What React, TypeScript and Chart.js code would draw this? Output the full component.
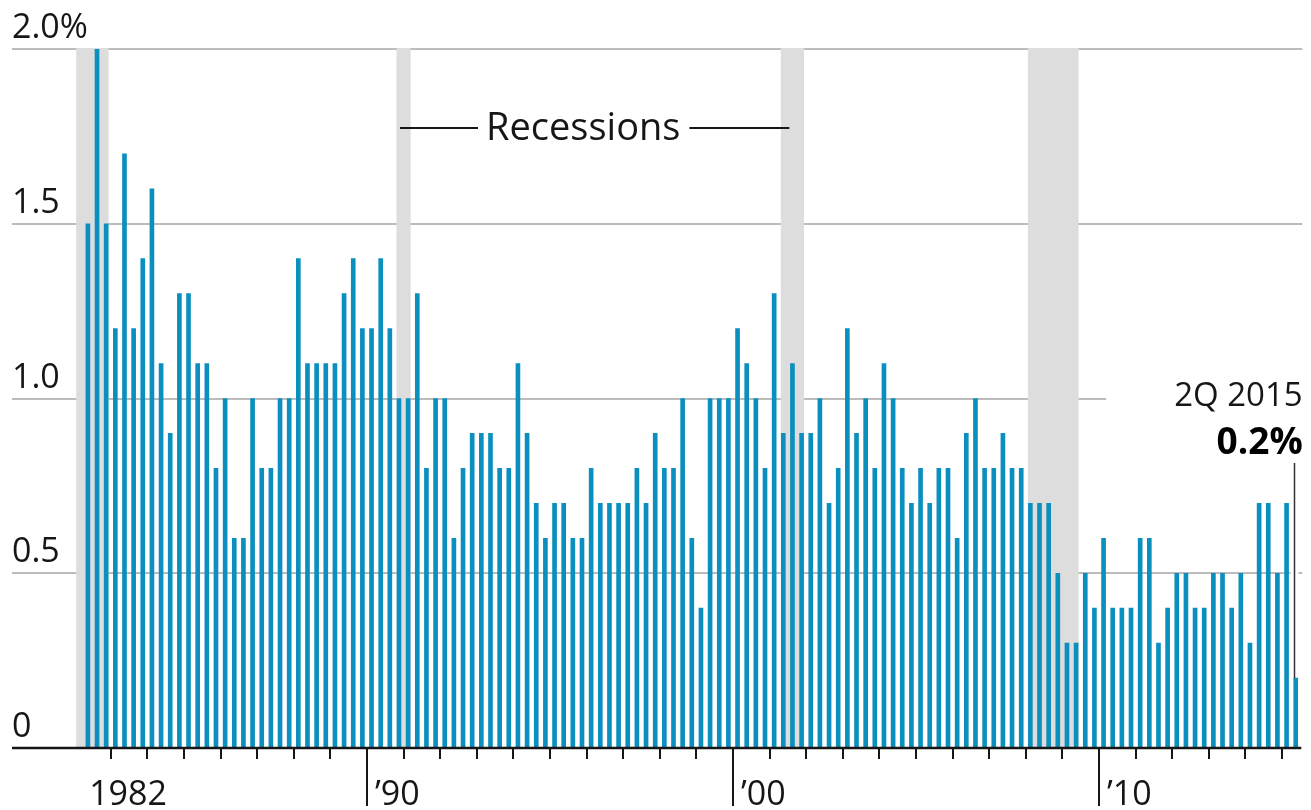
import React, { useEffect, useRef } from "react";
import { Chart, registerables } from "chart.js";

Chart.register(...registerables);

// Quarterly growth, from 2Q 1982 to 2Q 2015 (percent)
const startYear = 1982;
const startQuarter = 2;
const growth: number[] = [
  1.5, 2.0, 1.5, // 1982 Q2-Q4
  1.2, 1.7, 1.2, 1.4, // 1983
  1.6, 1.1, 0.9, 1.3, // 1984
  1.3, 1.1, 1.1, 0.8, // 1985
  1.0, 0.6, 0.6, 1.0, // 1986
  0.8, 0.8, 1.0, 1.0, // 1987
  1.4, 1.1, 1.1, 1.1, // 1988
  1.1, 1.3, 1.4, 1.2, // 1989
  1.2, 1.4, 1.2, 1.0, // 1990
  1.0, 1.3, 0.8, 1.0, // 1991
  1.0, 0.6, 0.8, 0.9, // 1992
  0.9, 0.9, 0.8, 0.8, // 1993
  1.1, 0.9, 0.7, 0.6, // 1994
  0.7, 0.7, 0.6, 0.6, // 1995
  0.8, 0.7, 0.7, 0.7, // 1996
  0.7, 0.8, 0.7, 0.9, // 1997
  0.8, 0.8, 1.0, 0.6, // 1998
  0.4, 1.0, 1.0, 1.0, // 1999
  1.2, 1.1, 1.0, 0.8, // 2000
  1.3, 0.9, 1.1, 0.9, // 2001
  0.9, 1.0, 0.7, 0.8, // 2002
  1.2, 0.9, 1.0, 0.8, // 2003
  1.1, 1.0, 0.8, 0.7, // 2004
  0.8, 0.7, 0.8, 0.8, // 2005
  0.6, 0.9, 1.0, 0.8, // 2006
  0.8, 0.9, 0.8, 0.8, // 2007
  0.7, 0.7, 0.7, 0.5, // 2008
  0.3, 0.3, 0.5, 0.4, // 2009
  0.6, 0.4, 0.4, 0.4, // 2010
  0.6, 0.6, 0.3, 0.4, // 2011
  0.5, 0.5, 0.4, 0.4, // 2012
  0.5, 0.5, 0.4, 0.5, // 2013
  0.3, 0.7, 0.7, 0.5, // 2014
  0.7, 0.2, // 2015 Q1-Q2
];

// Recessions: first and last quarter shaded [year, quarter]
const recessionStart: [number, number][] = [[1982, 1], [1990, 4], [2001, 2], [2008, 1]];
const recessionEnd: [number, number][] = [[1982, 4], [1991, 1], [2001, 4], [2009, 2]];

// Axis ticks and labels
const yTickValues = [0, 0.5, 1.0, 1.5, 2.0];
const yTickLabels = ["0", "0.5", "1.0", "1.5", "2.0%"];
const yearTickFirst = 1983;
const yearTickLast = 2015;
const decadeYears = [1990, 2000, 2010];
const decadeLabels = ["\u201990", "\u201900", "\u201910"];
const firstYearLabel = "1982";

const annotationTitle = "2Q 2015";
const annotationValue = "0.2%";
const recessionLabel = "Recessions";

const labels: string[] = growth.map((_, i) => {
  const q = startQuarter - 1 + i;
  return `${startYear + Math.floor(q / 4)}Q${(q % 4) + 1}`;
});

const BLUE = "#0b8fbe";
const SHADE = "#dddddd";
const GRID = "#bcbcbc";
const INK = "#161616";
const FONT = "'Open Sans', 'Noto Sans', sans-serif";
const BAR_W = 4;

function qIndex(year: number, quarter: number) {
  return (year - startYear) * 4 + (quarter - startQuarter);
}

const overlay = {
  id: "wsjOverlay",
  beforeDatasetsDraw(chart: any) {
    const { ctx, chartArea, scales } = chart;
    const x = scales.x;
    const y = scales.y;
    ctx.save();
    // gridlines
    ctx.strokeStyle = GRID;
    ctx.lineWidth = 2;
    yTickValues.forEach((v) => {
      if (v === 0) return;
      const py = Math.round(y.getPixelForValue(v));
      ctx.beginPath();
      ctx.moveTo(12, py);
      ctx.lineTo(chartArea.right + 2, py);
      ctx.stroke();
    });
    // recession shading
    ctx.fillStyle = SHADE;
    const top = y.getPixelForValue(yTickValues[yTickValues.length - 1]);
    const bottom = y.getPixelForValue(0);
    recessionStart.forEach((s, i) => {
      const e = recessionEnd[i];
      const x0 = x.getPixelForValue(qIndex(s[0], s[1])) - BAR_W / 2 - 0.5;
      const x1 = x.getPixelForValue(qIndex(e[0], e[1])) + BAR_W / 2 + 0.5;
      ctx.fillRect(x0, top - 1, x1 - x0, bottom - top + 1);
    });
    ctx.restore();
  },
  afterDatasetsDraw(chart: any) {
    const { ctx, chartArea, scales } = chart;
    const x = scales.x;
    const y = scales.y;
    const y0 = y.getPixelForValue(0);
    ctx.save();

    // axis line
    ctx.strokeStyle = INK;
    ctx.lineWidth = 2.5;
    ctx.beginPath();
    ctx.moveTo(12, y0);
    ctx.lineTo(chartArea.right + 1, y0);
    ctx.stroke();

    // year ticks
    ctx.lineWidth = 2;
    for (let yr = yearTickFirst; yr <= yearTickLast; yr++) {
      const i = qIndex(yr, 1);
      const px = Math.round((x.getPixelForValue(i) + x.getPixelForValue(i - 1)) / 2);
      const isDecade = decadeYears.includes(yr);
      ctx.beginPath();
      ctx.moveTo(px, y0);
      ctx.lineTo(px, y0 + (isDecade ? 58 : 11));
      ctx.stroke();
    }

    // x labels
    ctx.fillStyle = INK;
    ctx.font = `normal 34px ${FONT}`;
    ctx.textBaseline = "alphabetic";
    ctx.textAlign = "center";
    {
      const px = (x.getPixelForValue(4) + x.getPixelForValue(5)) / 2;
      ctx.fillText(firstYearLabel, px - 1, y0 + 57);
    }
    ctx.textAlign = "left";
    decadeYears.forEach((yr, k) => {
      const i = qIndex(yr, 1);
      const px = (x.getPixelForValue(i) + x.getPixelForValue(i - 1)) / 2;
      ctx.fillText(decadeLabels[k], px + 8, y0 + 57);
    });

    // y labels
    ctx.font = `normal 34px ${FONT}`;
    ctx.textAlign = "left";
    yTickValues.forEach((v, k) => {
      const py = y.getPixelForValue(v);
      ctx.fillText(yTickLabels[k], 12, py - 11);
    });

    // Recessions label
    const s2 = recessionStart[1];
    const s3 = recessionStart[2];
    const shade2Left = x.getPixelForValue(qIndex(s2[0], s2[1])) - BAR_W / 2;
    const shade3Left = x.getPixelForValue(qIndex(s3[0], s3[1])) - BAR_W / 2;
    const ly = Math.round(y.getPixelForValue(1.775));
    ctx.font = `normal 38px ${FONT}`;
    const lineStart = shade2Left + 3;
    const leftEnd = lineStart + 78;
    const textX = leftEnd + 8;
    const tw = ctx.measureText(recessionLabel).width;
    ctx.textBaseline = "middle";
    ctx.fillText(recessionLabel, textX, ly + 1);
    ctx.lineWidth = 2;
    ctx.strokeStyle = INK;
    ctx.beginPath();
    ctx.moveTo(lineStart, ly);
    ctx.lineTo(leftEnd, ly);
    ctx.moveTo(textX + tw + 9, ly);
    ctx.lineTo(shade3Left + 8, ly);
    ctx.stroke();

    // 2Q 2015 annotation
    const lastI = growth.length - 1;
    const bx = x.getPixelForValue(lastI);
    const by = y.getPixelForValue(growth[lastI]);
    const textRight = bx + 7;
    ctx.textBaseline = "alphabetic";
    ctx.textAlign = "right";
    ctx.font = `normal 33px ${FONT}`;
    const w1 = ctx.measureText(annotationTitle).width;
    ctx.fillStyle = "#ffffff";
    ctx.fillRect(textRight - w1 - 68, 365, w1 + 80, 98);
    // leader line with halo
    const lx = Math.round(bx - 1.5) + 0.5;
    ctx.strokeStyle = "#ffffff";
    ctx.lineWidth = 8;
    ctx.beginPath();
    ctx.moveTo(lx, 463);
    ctx.lineTo(lx, by - 4);
    ctx.stroke();
    ctx.strokeStyle = "#333333";
    ctx.lineWidth = 1.5;
    ctx.beginPath();
    ctx.moveTo(lx, 463);
    ctx.lineTo(lx, by);
    ctx.stroke();

    ctx.fillStyle = INK;
    ctx.fillText(annotationTitle, textRight, 406);
    ctx.font = `bold 37px ${FONT}`;
    ctx.fillStyle = "#000000";
    ctx.fillText(annotationValue, textRight, 454);

    ctx.restore();
  },
};

export default function App() {
  const canvasRef = useRef<HTMLCanvasElement | null>(null);

  useEffect(() => {
    document.body.style.margin = "0";
    const canvas = canvasRef.current;
    if (!canvas) return;
    const chart = new Chart(canvas, {
      type: "bar",
      data: {
        labels,
        datasets: [
          {
            data: growth,
            backgroundColor: BLUE,
            borderWidth: 0,
            barThickness: BAR_W,
          },
        ],
      },
      options: {
        responsive: false,
        animation: false,
        devicePixelRatio: 1,
        layout: { padding: { left: 83.3, right: 10.7, top: 49, bottom: 62 } },
        plugins: { legend: { display: false }, tooltip: { enabled: false } },
        scales: {
          x: { type: "category", display: false, offset: true },
          y: { display: false, min: 0, max: 2 },
        },
      },
      plugins: [overlay],
    });
    return () => chart.destroy();
  }, []);

  return (
    <div style={{ width: 1311, height: 810, background: "#ffffff" }}>
      <canvas ref={canvasRef} width={1311} height={810} style={{ display: "block" }} />
    </div>
  );
}
